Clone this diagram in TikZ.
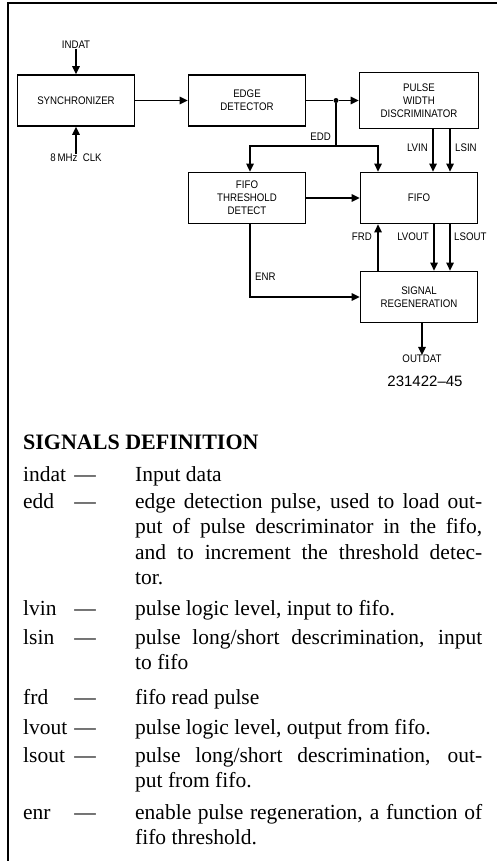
\documentclass[tikz,border=0pt]{standalone}
\usepackage{fontspec}
\setmainfont{Liberation Serif}
\newfontfamily\diagfont[FakeStretch=0.88]{Liberation Sans}
\newfontfamily\numfont{Liberation Sans}
\usetikzlibrary{arrows.meta,positioning,calc}

\begin{document}
\begin{tikzpicture}[x=1pt,y=-1pt,
    every node/.style={inner sep=0pt},
    blk/.style={draw, line width=1.8pt, minimum width=117pt, minimum height=51pt,
      align=center, font=\diagfont\fontsize{11}{13}\selectfont},
    lbl/.style={font=\diagfont\fontsize{11}{13}\selectfont},
    arr/.style={line width=1.4pt, -{Triangle[length=8pt,width=7.5pt]}},
    wire/.style={line width=1.4pt},
    sig/.style={anchor=base west, font=\fontsize{21.5}{25.5}\selectfont},
    dsc/.style={anchor=base west, text width=347pt, align=justify,
      font=\fontsize{21.5}{25.5}\selectfont}]
  \useasboundingbox (0,0) rectangle (497,861);
  % frame
  \draw[line width=2pt] (497,3) -- (8,3) -- (8,861);

  % blocks
  \node[blk] (sync) at (76,100.5) {SYNCHRONIZER};
  \node[blk] (edge) at (247,100.5) {EDGE\\DETECTOR};
  \node[blk, minimum width=119pt, minimum height=56pt] (pwd) at (419,100.5) {PULSE\\WIDTH\\DISCRIMINATOR};
  \node[blk] (thr) at (247,198) {FIFO\\THRESHOLD\\DETECT};
  \node[blk] (fifo) at (419,198) {FIFO};
  \node[blk] (regen) at (419,297) {SIGNAL\\REGENERATION};

  % inputs and outputs
  \node[lbl] (indat) at (76,45) {INDAT};
  \node[lbl] (clk) at (76,158) {8\,MHz\ \ CLK};
  \node[lbl] (outdat) at (422,359) {OUTDAT};
  \node[font=\numfont\fontsize{15}{18}\selectfont] (fig) at (425,381) {231422\textendash45};
  \draw[arr] (indat) -- (sync);
  \draw[arr] (clk) -- (sync);
  \draw[arr] ([xshift=3pt]regen.south) -- (outdat.north);

  % main data path
  \node[circle, fill, minimum size=5pt] (split) at (336,100.5) {};
  \draw[arr] (sync) -- (edge);
  \draw[wire] (edge.east) -- (split);
  \draw[arr] (split) -- (pwd.west);

  % edd bus
  \coordinate (busL) at (250,146);
  \coordinate (busR) at (378,146);
  \draw[arr] (split) |- (busL) -- (busL |- thr.north);
  \draw[arr] (split |- busR) -- (busR) -- (busR |- fifo.north);
  \node[lbl, anchor=east] (edd) at (331,137) {EDD};

  % pulse width to fifo
  \draw[arr] ([xshift=14pt]pwd.south) -- ([xshift=14pt]fifo.north);
  \draw[arr] ([xshift=31pt]pwd.south) -- ([xshift=31pt]fifo.north);
  \node[lbl, anchor=east] (lvin) at (428,148) {LVIN};
  \node[lbl, anchor=west] (lsin) at (455,148) {LSIN};

  \draw[arr] (thr) -- (fifo);

  % fifo to regeneration
  \draw[arr] ([xshift=-41pt]regen.north) -- ([xshift=-41pt]fifo.south);
  \draw[arr] ([xshift=15pt]fifo.south) -- ([xshift=15pt]regen.north);
  \draw[arr] ([xshift=31pt]fifo.south) -- ([xshift=31pt]regen.north);
  \node[lbl, anchor=east] (frd) at (372,237) {FRD};
  \node[lbl, anchor=east] (lvout) at (429,237) {LVOUT};
  \node[lbl, anchor=west] (lsout) at (454,237) {LSOUT};

  \draw[arr] ([xshift=3pt]thr.south) |- (regen.west);
  \node[lbl, anchor=west] (enr) at (255,277) {ENR};

  % signals definition
  \node[anchor=base west, font=\fontsize{22}{26}\selectfont\bfseries] (head) at (23,449) {SIGNALS DEFINITION};
  \foreach \y/\nm/\txt in {
      481/indat/{Input data},
      508/edd/{edge detection pulse, used to load out-\linebreak put of pulse descriminator in the fifo,\linebreak and to increment the threshold detec-\linebreak tor.},
      615/lvin/{pulse logic level, input to fifo.},
      644/lsin/{pulse long/short descrimination, input\linebreak to fifo},
      704/frd/{fifo read pulse},
      734/lvout/{pulse logic level, output from fifo.},
      762/lsout/{pulse long/short descrimination, out-\linebreak put from fifo.},
      819/enr/{enable pulse regeneration, a function of\linebreak fifo threshold.}} {
    \node[sig] (n-\nm) at (23,\y) {\nm};
    \node[sig, anchor=base] (d-\nm) at (85,\y) {---};
    \node[dsc] (t-\nm) at (135,\y) {\txt};
  }
\end{tikzpicture}
\end{document}
